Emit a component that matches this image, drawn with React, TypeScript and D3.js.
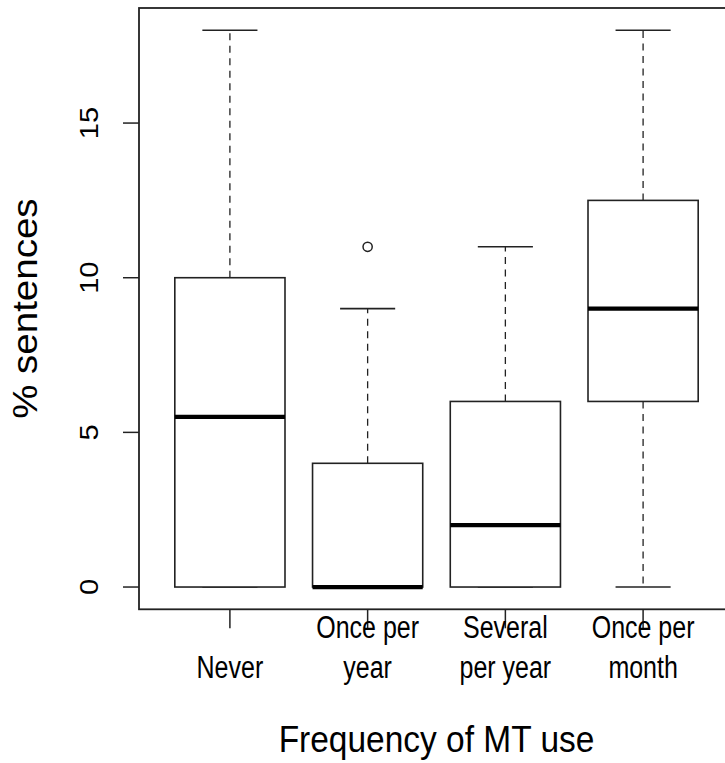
import * as d3 from "d3";

const categories = ["Never", "Once per year", "Several per year", "Once per month"];
const tickLabelLines = [["Never"], ["Once per", "year"], ["Several", "per year"], ["Once per", "month"]];
const lowerWhisker = [0, 0, 0, 0];
const q1 = [0, 0, 0, 6];
const median = [5.5, 0, 2, 9];
const q3 = [10, 4, 6, 12.5];
const upperWhisker = [18, 9, 11, 18];
const outliers = [[], [11], [], []];
const yTicks = [0, 5, 10, 15];

const App = () => {
    const width = 725;
    const height = 763;
    const font = "'Liberation Sans', Arial, sans-serif";
    const ink = "#222";

    // R style: xlim 0.5..4.5 and ylim 0..18, each padded by 4%
    const xScale = d3.scaleLinear().domain([0.34, 4.66]).range([139, 734]);
    const yScale = d3.scaleLinear().domain([-0.72, 18.72]).range([609.3, 8]);

    const left = xScale.range()[0];
    const right = xScale.range()[1];
    const top = yScale.range()[1];
    const bottom = yScale.range()[0];

    const boxHalf = 0.4;
    const stapleHalf = 0.2;

    return (
        <div style={{ position: "fixed", top: 0, left: 0 }}>
            <svg width={width} height={height} style={{ display: "block", background: "#fff" }}>
                {categories.map((c, i) => {
                    const x = i + 1;
                    const cx = xScale(x);
                    const x0 = xScale(x - boxHalf);
                    const x1 = xScale(x + boxHalf);
                    const s0 = xScale(x - stapleHalf);
                    const s1 = xScale(x + stapleHalf);
                    return (
                        <g key={c}>
                            {/* whiskers */}
                            <line x1={cx} x2={cx} y1={yScale(q3[i])} y2={yScale(upperWhisker[i])}
                                stroke={ink} strokeWidth={1.3} strokeDasharray="7 5.5" />
                            <line x1={cx} x2={cx} y1={yScale(q1[i])} y2={yScale(lowerWhisker[i])}
                                stroke={ink} strokeWidth={1.3} strokeDasharray="7 5.5" />
                            {/* staples */}
                            <line x1={s0} x2={s1} y1={yScale(upperWhisker[i])} y2={yScale(upperWhisker[i])}
                                stroke={ink} strokeWidth={1.6} />
                            <line x1={s0} x2={s1} y1={yScale(lowerWhisker[i])} y2={yScale(lowerWhisker[i])}
                                stroke={ink} strokeWidth={1.6} />
                            {/* box */}
                            <rect x={x0} y={yScale(q3[i])} width={x1 - x0}
                                height={yScale(q1[i]) - yScale(q3[i])}
                                fill="#fff" stroke={ink} strokeWidth={1.6} />
                            <line x1={x0} x2={x1} y1={yScale(median[i])} y2={yScale(median[i])}
                                stroke="#000" strokeWidth={4.2} />
                            {outliers[i].map((o, j) => (
                                <circle key={j} cx={cx} cy={yScale(o)} r={4.6}
                                    fill="none" stroke={ink} strokeWidth={1.5} />
                            ))}
                        </g>
                    );
                })}

                {/* frame */}
                <rect x={left} y={top} width={right - left} height={bottom - top}
                    fill="none" stroke={ink} strokeWidth={1.8} />

                {/* y axis */}
                {yTicks.map((t) => (
                    <g key={t}>
                        <line x1={left} x2={left - 16} y1={yScale(t)} y2={yScale(t)} stroke={ink} strokeWidth={1.5} />
                        <text transform={`translate(98,${yScale(t)}) rotate(-90) scale(1.16,1)`}
                            textAnchor="middle" fontFamily={font} fontSize={25} fill="#000">
                            {t}
                        </text>
                    </g>
                ))}

                {/* x axis */}
                {categories.map((c, i) => {
                    const cx = xScale(i + 1);
                    const lines = tickLabelLines[i];
                    return (
                        <g key={c}>
                            <line x1={cx} x2={cx} y1={bottom} y2={bottom + 19} stroke={ink} strokeWidth={1.5} />
                            {lines.map((l, j) => (
                                <text key={j}
                                    transform={`translate(${cx},${678 - (lines.length - 1 - j) * 40}) scale(1,1.25)`}
                                    textAnchor="middle" fontFamily={font} fontSize={25} fill="#000">
                                    {l}
                                </text>
                            ))}
                        </g>
                    );
                })}

                {/* axis titles */}
                <text transform={`translate(${(left + right) / 2},752) scale(1,1.12)`}
                    textAnchor="middle" fontFamily={font} fontSize={33.5} fill="#000">
                    Frequency of MT use
                </text>
                <text transform={`translate(37,${(top + bottom) / 2}) rotate(-90) scale(1.1,1)`}
                    textAnchor="middle" fontFamily={font} fontSize={35} fill="#000">
                    % sentences
                </text>
            </svg>
        </div>
    );
};

export default App;
